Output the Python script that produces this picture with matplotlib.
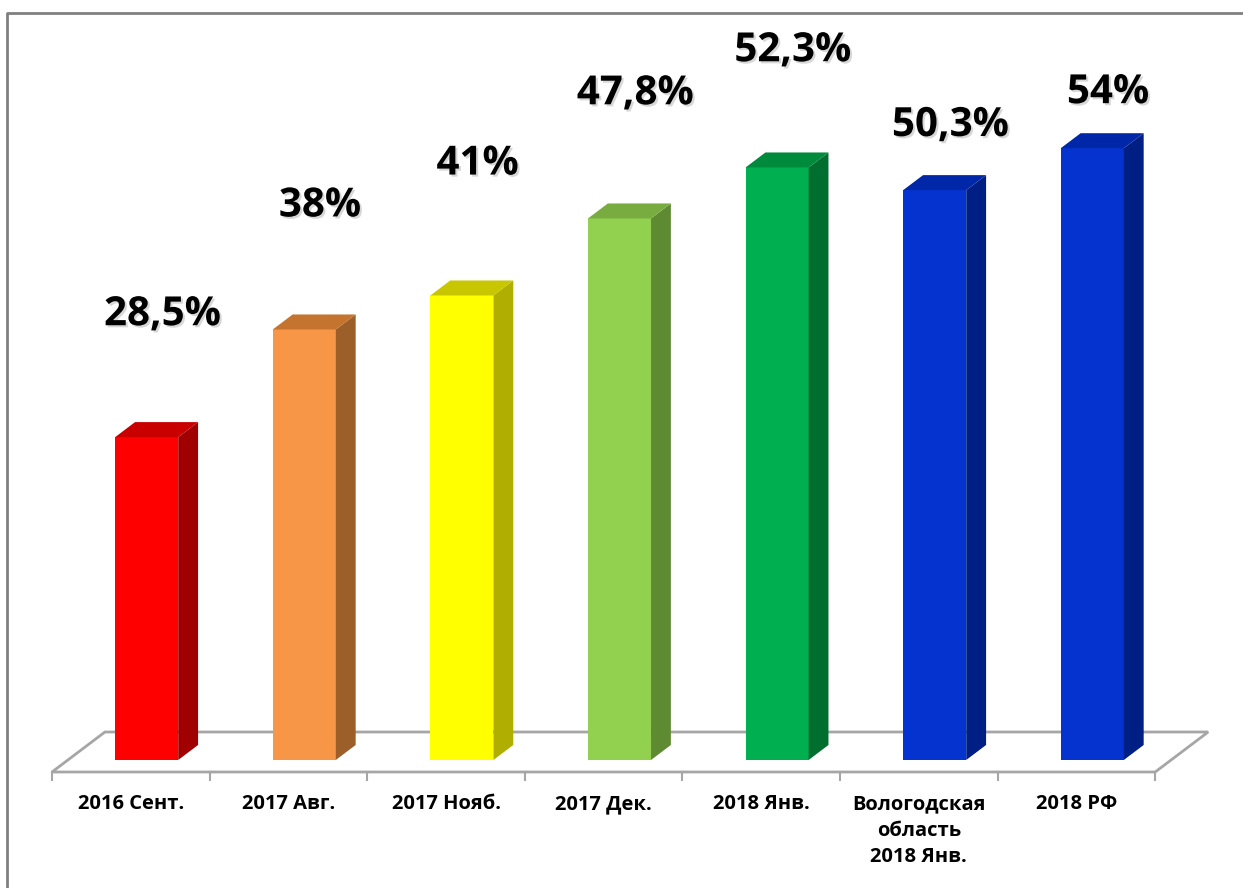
import matplotlib.pyplot as plt
import matplotlib.patheffects as pe
from matplotlib.patches import Polygon
from matplotlib.lines import Line2D

# data
categories = ["2016 Сент.", "2017 Авг.", "2017 Нояб.", "2017 Дек.", "2018 Янв.",
              "Вологодская\nобласть\n2018 Янв.", "2018 РФ"]
values = [28.5, 38, 41, 47.8, 52.3, 50.3, 54]
labels = ["28,5%", "38%", "41%", "47,8%", "52,3%", "50,3%", "54%"]
front_colors = ["#FF0000", "#F79646", "#FFFF00", "#92D050", "#00B050", "#0433CF", "#0433CF"]
side_colors = ["#A00000", "#9C5F2A", "#B0AE00", "#5E8A32", "#006E2E", "#001F85", "#001F85"]
top_colors = ["#C80000", "#C4742F", "#C8C600", "#78AC40", "#008A3C", "#0027A8", "#0027A8"]
# label height above the bar top (in % units)
label_lift = [10.8, 10.9, 11.6, 11.0, 10.3, 5.7, 4.9]

plt.rcParams['font.family'] = ['Open Sans', 'DejaVu Sans']

fig = plt.figure(figsize=(12.43, 8.88), dpi=100)
ax = fig.add_axes([0, 0, 1, 1])
ax.set_xlim(-0.83, 7.057)
ax.set_ylim(-11.3, 67.08)
ax.axis('off')

# oblique depth (full floor depth)
DX, DY = 0.336, 3.53
floor_y = -1.06
n = len(values)

# floor
gray = "#A6A6A6"
floor = [(-0.5, floor_y), (n - 0.5, floor_y), (n - 0.5 + DX, floor_y + DY), (-0.5 + DX, floor_y + DY)]
ax.add_patch(Polygon(floor, closed=True, facecolor="white", edgecolor=gray, lw=2, zorder=1))
for b in range(n + 1):
    ax.plot([b - 0.5, b - 0.5], [floor_y, floor_y - 0.7], color=gray, lw=1.5, zorder=1)

# bars
w = 0.2
f0, f1 = 0.3, 0.675
for i, v in enumerate(values):
    x0 = i + f0 * DX - w
    x1 = i + f0 * DX + w
    y0 = floor_y + f0 * DY
    y1 = y0 + v
    ddx = (f1 - f0) * DX
    ddy = (f1 - f0) * DY
    ax.add_patch(Polygon([(x0, y0), (x1, y0), (x1, y1), (x0, y1)],
                         facecolor=front_colors[i], edgecolor='none', zorder=3))
    ax.add_patch(Polygon([(x1, y0), (x1 + ddx, y0 + ddy), (x1 + ddx, y1 + ddy), (x1, y1)],
                         facecolor=side_colors[i], edgecolor='none', zorder=3))
    ax.add_patch(Polygon([(x0, y1), (x1, y1), (x1 + ddx, y1 + ddy), (x0 + ddx, y1 + ddy)],
                         facecolor=top_colors[i], edgecolor='none', zorder=3))
    ax.text(i + 0.2, v + label_lift[i], labels[i], ha='center', va='center',
            fontsize=29, fontweight='bold', color='black', zorder=5,
            path_effects=[pe.withSimplePatchShadow(offset=(1.5, -1.5), shadow_rgbFace='#909090', alpha=0.35)])
    ax.text(i, -3.0, categories[i], ha='center', va='top', fontsize=14.5,
            fontweight='bold', linespacing=1.45, zorder=5)

# outer frame
fig.add_artist(Line2D([7 / 1243, 7 / 1243, 1], [0, 1 - 13 / 888, 1 - 13 / 888],
                      transform=fig.transFigure, color='#808080', lw=2))

fig.savefig('out.png', dpi=100)
